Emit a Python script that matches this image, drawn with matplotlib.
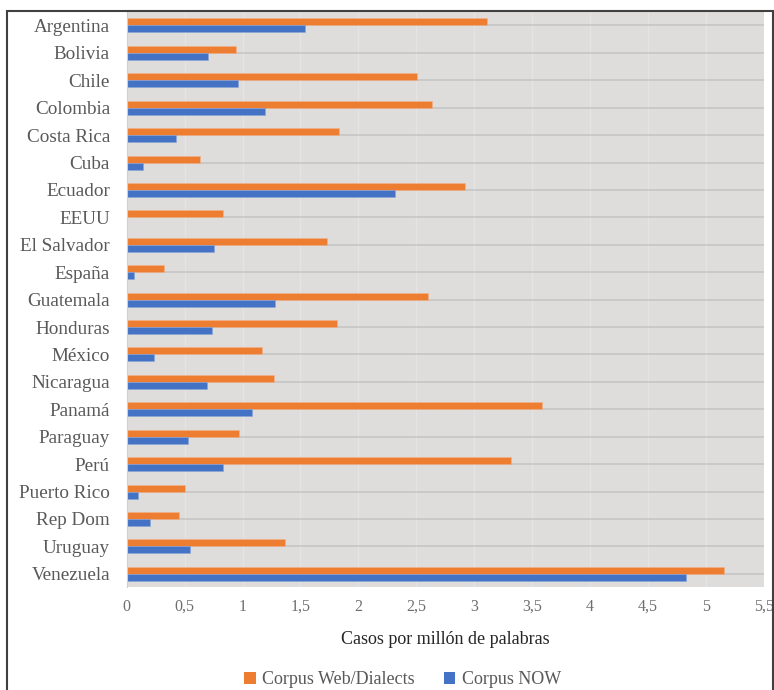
import numpy as np
import matplotlib.pyplot as plt
from matplotlib.patches import Rectangle, Patch
from matplotlib import ticker

paises = ["Argentina", "Bolivia", "Chile", "Colombia", "Costa Rica", "Cuba",
          "Ecuador", "EEUU", "El Salvador", "España", "Guatemala", "Honduras",
          "México", "Nicaragua", "Panamá", "Paraguay", "Perú", "Puerto Rico",
          "Rep Dom", "Uruguay", "Venezuela"]
web_dialects = [3.11, 0.94, 2.51, 2.64, 1.83, 0.63, 2.92, 0.83, 1.73, 0.32, 2.60,
                1.82, 1.17, 1.27, 3.59, 0.97, 3.32, 0.50, 0.45, 1.37, 5.16]
corpus_now = [1.54, 0.70, 0.96, 1.19, 0.43, 0.14, 2.32, 0.0, 0.75, 0.06, 1.28,
              0.74, 0.24, 0.69, 1.08, 0.53, 0.83, 0.10, 0.20, 0.55, 4.83]
x_ticks = [0, 0.5, 1, 1.5, 2, 2.5, 3, 3.5, 4, 4.5, 5, 5.5]

naranja = "#ED7D31"
azul = "#4472C4"
gris_texto = "#595959"

plt.rcParams['font.family'] = ['Liberation Serif', 'DejaVu Serif']

fig = plt.figure(figsize=(7.74, 6.90), dpi=100)
ax = fig.add_axes([0.1637, 0.1486, 0.9866 - 0.1637, 0.983 - 0.1486])
ax.set_facecolor("#dedddc")

y = np.arange(len(paises))
alto = 0.255
ax.barh(y - alto / 2, web_dialects, height=alto, color=naranja,
        edgecolor="#f3b28a", linewidth=0.4, zorder=3)
ax.barh(y + alto / 2, corpus_now, height=alto, color=azul,
        edgecolor="#8aa6d8", linewidth=0.4, zorder=3)

ax.set_ylim(len(paises) - 0.5, -0.5)
ax.set_xlim(0, 5.5)
ax.set_yticks(y)
ax.set_yticklabels(paises, fontsize=13.8, color=gris_texto)
ax.set_xticks(x_ticks)
ax.xaxis.set_major_formatter(ticker.FuncFormatter(
    lambda v, p: ("%g" % v).replace(".", ",")))
ax.tick_params(axis="x", labelsize=11.5, colors="#6e6e6e", length=0, pad=8)
ax.tick_params(axis="y", length=0, pad=12)

# cuadrícula
for xv in x_ticks[1:]:
    ax.axvline(xv, color="#e4e4e4", linewidth=1.0, zorder=1)
for yv in y:
    ax.axhline(yv, color="#c6c6c6", linewidth=1.2, zorder=2)

for s in ["top", "right", "bottom"]:
    ax.spines[s].set_visible(False)
ax.spines["left"].set_color("#d0d0d0")
ax.spines["left"].set_zorder(4)

ax.set_xlabel("Casos por millón de palabras", fontsize=13, color="#262626",
              labelpad=12)

handles = [Patch(facecolor=naranja, label="Corpus Web/Dialects"),
           Patch(facecolor=azul, label="Corpus NOW")]
fig.legend(handles=handles, loc="center", bbox_to_anchor=(0.52, 1 - 680 / 690),
           ncol=2, frameon=False, fontsize=13, labelcolor=gris_texto,
           handlelength=0.65, handleheight=0.65, handletextpad=0.35,
           columnspacing=1.6)

# borde del gráfico
fig.patches.append(Rectangle((7 / 774, -0.1), 766 / 774, 1.1 - 11 / 690,
                             transform=fig.transFigure, fill=False,
                             edgecolor="#404040", linewidth=1.5))

fig.savefig("out.png", dpi=100)
